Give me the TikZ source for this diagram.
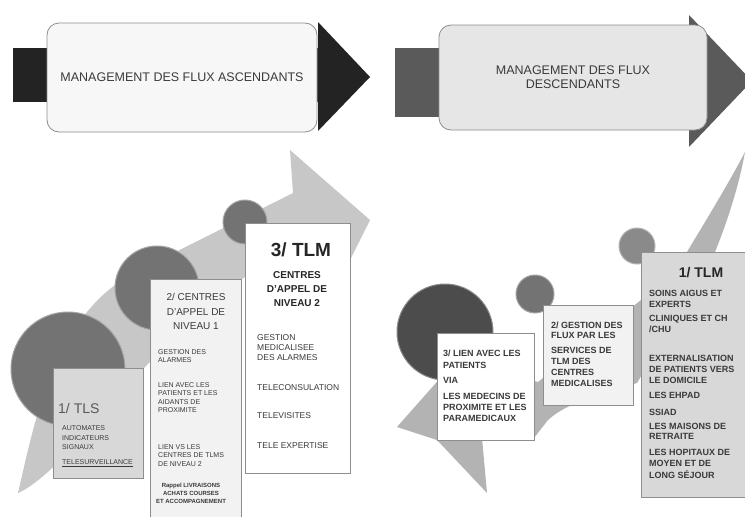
\documentclass[tikz,border=0pt]{standalone}
\usepackage{fontspec}
\setmainfont{Liberation Sans}

\definecolor{headdark}{HTML}{232323}
\definecolor{headgrey}{HTML}{5A5A5A}
\definecolor{bannerone}{HTML}{F7F7F7}
\definecolor{bannertwo}{HTML}{E6E6E6}
\definecolor{frameline}{HTML}{8E8E8E}
\definecolor{inktext}{HTML}{3A3A3A}
\definecolor{swooshup}{HTML}{C7C7C7}
\definecolor{swooshdown}{HTML}{B3B3B3}
\definecolor{ballmid}{HTML}{737373}
\definecolor{balldark}{HTML}{4C4C4C}
\definecolor{ballpale}{HTML}{8A8A8A}
\definecolor{panelgrey}{HTML}{D8D8D8}
\definecolor{panelpale}{HTML}{F2F2F2}

\begin{document}
\begin{tikzpicture}[x=1pt,y=-1pt,
    banner/.style={draw=frameline, line width=0.8pt, rounded corners=12pt, inner sep=0pt,
      align=center, text=inktext, font=\fontsize{12.5}{14}\selectfont},
    panel/.style={draw=frameline, line width=0.7pt, inner sep=0pt},
    rim/.style={draw=white!35!#1, line width=1pt, fill=#1},
    txt/.style={inner sep=0pt, anchor=north west, align=left, text=inktext},
    smalltxt/.style={txt, font=\fontsize{7}{8.3}\selectfont},
    midtxt/.style={txt, font=\fontsize{8.5}{10}\selectfont},
    boldtxt/.style={txt, font=\bfseries\fontsize{9}{11.5}\selectfont}]
        \path[use as bounding box, fill=white] (0,0) rectangle (745,517);
        \clip (0,0) rectangle (745,517);

        % banners
        \fill[headdark] (13,48) rectangle (330,102);
        \fill[headdark] (318,22) -- (370,77) -- (318,131) -- cycle;
        \node[banner, fill=bannerone, minimum width=270pt, minimum height=109pt] (ascbox) at (182,77.5) {MANAGEMENT DES FLUX ASCENDANTS};

        \fill[headgrey] (395,48) rectangle (700,117);
        \fill[headgrey] (689,15) -- (752,81) -- (689,147) -- cycle;
        \node[banner, fill=bannertwo, minimum width=268pt, minimum height=105pt] (descbox) at (573,77.5) {MANAGEMENT DES FLUX\\DESCENDANTS};

        % rising swoosh
        \fill[swooshup] (18,493) .. controls (35,420) and (55,310) .. (140,270) -- (293,193) -- (290,150)
          -- (370,220) -- (330,300) -- (305,258) -- (245,277) .. controls (150,340) and (70,470) .. (18,493) -- cycle;
        \filldraw[rim=ballmid] (68,369) circle (57pt);
        \filldraw[rim=ballmid] (157,288) circle (42pt);
        \filldraw[rim=ballmid] (245,222) circle (22pt);

        \node[panel, fill=panelgrey, minimum width=90pt, minimum height=110pt] (tls) at (98,423) {};
        \node[txt, anchor=west, text=black!65, font=\fontsize{14}{16}\selectfont] (tlstitle) at (58,408) {1/ TLS};
        \node[smalltxt, font=\fontsize{7}{9.5}\selectfont] (tlslist) at (62,425.5) {AUTOMATES\\INDICATEURS\\SIGNAUX};
        \node[smalltxt] (tlssurv) at (62,459.5) {\underline{TELESURVEILLANCE}};

        \node[panel, fill=panelpale, minimum width=91pt, minimum height=251pt] (centresone) at (195.5,404.5) {};
        \node[txt, anchor=north, align=center, font=\fontsize{10}{14.5}\selectfont] (centresonehead) at (196,293.4) {2/ CENTRES\\D'APPEL DE\\NIVEAU 1};
        \node[smalltxt] (alarmes) at (158,349.5) {GESTION DES\\ALARMES};
        \node[smalltxt] (aidants) at (158,382.5) {LIEN AVEC LES\\PATIENTS ET LES\\AIDANTS DE\\PROXIMITE};
        \node[smalltxt] (niveautwo) at (158,444.5) {LIEN VS LES\\CENTRES DE TLMS\\DE NIVEAU 2};
        \node[txt, anchor=north, align=center, font=\bfseries\fontsize{6}{8}\selectfont] (rappel) at (191,482.8) {Rappel LIVRAISONS\\ACHATS COURSES\\ET ACCOMPAGNEMENT};

        \node[panel, fill=white, minimum width=105pt, minimum height=250pt] (centrestwo) at (297.5,348) {};
        \node[txt, anchor=center, text=black!85, font=\bfseries\fontsize{19}{21}\selectfont] (tlmtitle) at (301,250) {3/ TLM};
        \node[txt, anchor=north, align=center, text=black!85, font=\bfseries\fontsize{10}{14}\selectfont] (centrestwohead) at (297,271.4) {CENTRES\\D'APPEL DE\\NIVEAU 2};
        \node[midtxt] (medical) at (257,334) {GESTION\\MEDICALISEE\\DES ALARMES};
        \node[midtxt] (teleconsult) at (257,384) {TELECONSULATION};
        \node[midtxt] (televisit) at (257,412) {TELEVISITES};
        \node[midtxt] (teleexpert) at (257,442) {TELE EXPERTISE};

        % falling swoosh
        \fill[swooshdown] (745,152) .. controls (725,190) and (700,230) .. (687,252) -- (641,300) -- (538,382)
          -- (458,358) -- (397,427) -- (437,440) -- (487,493) -- (482,438) -- (534,438) -- (548,420)
          .. controls (570,400) and (610,392) .. (637,383) -- (715,252) .. controls (730,215) and (740,180) .. (745,152) -- cycle;
        \filldraw[rim=balldark] (445,332) circle (48pt);
        \filldraw[rim=ballmid] (535,294) circle (19pt);
        \filldraw[rim=ballpale] (637,246) circle (18pt);

        \node[panel, fill=white, minimum width=97pt, minimum height=107pt] (lien) at (485.5,386.5) {};
        \node[boldtxt] (lienhead) at (443,349.8) {3/ LIEN AVEC LES\\PATIENTS};
        \node[boldtxt] (via) at (443,376.8) {VIA};
        \node[boldtxt, font=\bfseries\fontsize{9}{11}\selectfont] (medecins) at (443,393.5) {LES MEDECINS DE\\PROXIMITE ET LES\\PARAMEDICAUX};

        \node[panel, fill=panelpale, minimum width=90pt, minimum height=100pt] (gestion) at (588,355) {};
        \node[boldtxt, font=\bfseries\fontsize{9}{10}\selectfont] (gestionhead) at (551,321.8) {2/ GESTION DES\\FLUX PAR LES};
        \node[boldtxt, font=\bfseries\fontsize{9}{11}\selectfont] (services) at (551,346.8) {SERVICES DE\\TLM DES\\CENTRES\\MEDICALISES};

        \node[panel, fill=panelgrey, minimum width=112pt, minimum height=245pt] (tlm) at (697,374.5) {};
        \node[txt, anchor=center, text=black!85, font=\bfseries\fontsize{14}{16}\selectfont] (tlmhead) at (701,273) {1/ TLM};
        \node[boldtxt] (aigus) at (649,289.8) {SOINS AIGUS ET\\EXPERTS};
        \node[boldtxt] (cliniques) at (649,314.8) {CLINIQUES ET CH\\/CHU};
        \node[boldtxt, font=\bfseries\fontsize{9}{11}\selectfont] (domicile) at (649,354.8) {EXTERNALISATION\\DE PATIENTS VERS\\LE DOMICILE};
        \node[boldtxt] (ehpad) at (649,391.8) {LES EHPAD};
        \node[boldtxt] (ssiad) at (649,408.8) {SSIAD};
        \node[boldtxt, font=\bfseries\fontsize{9}{10.5}\selectfont] (retraite) at (649,422.8) {LES MAISONS DE\\RETRAITE};
        \node[boldtxt] (sejour) at (649,448.8) {LES HOPITAUX DE\\MOYEN ET DE\\LONG SÉJOUR};
\end{tikzpicture}
\end{document}
